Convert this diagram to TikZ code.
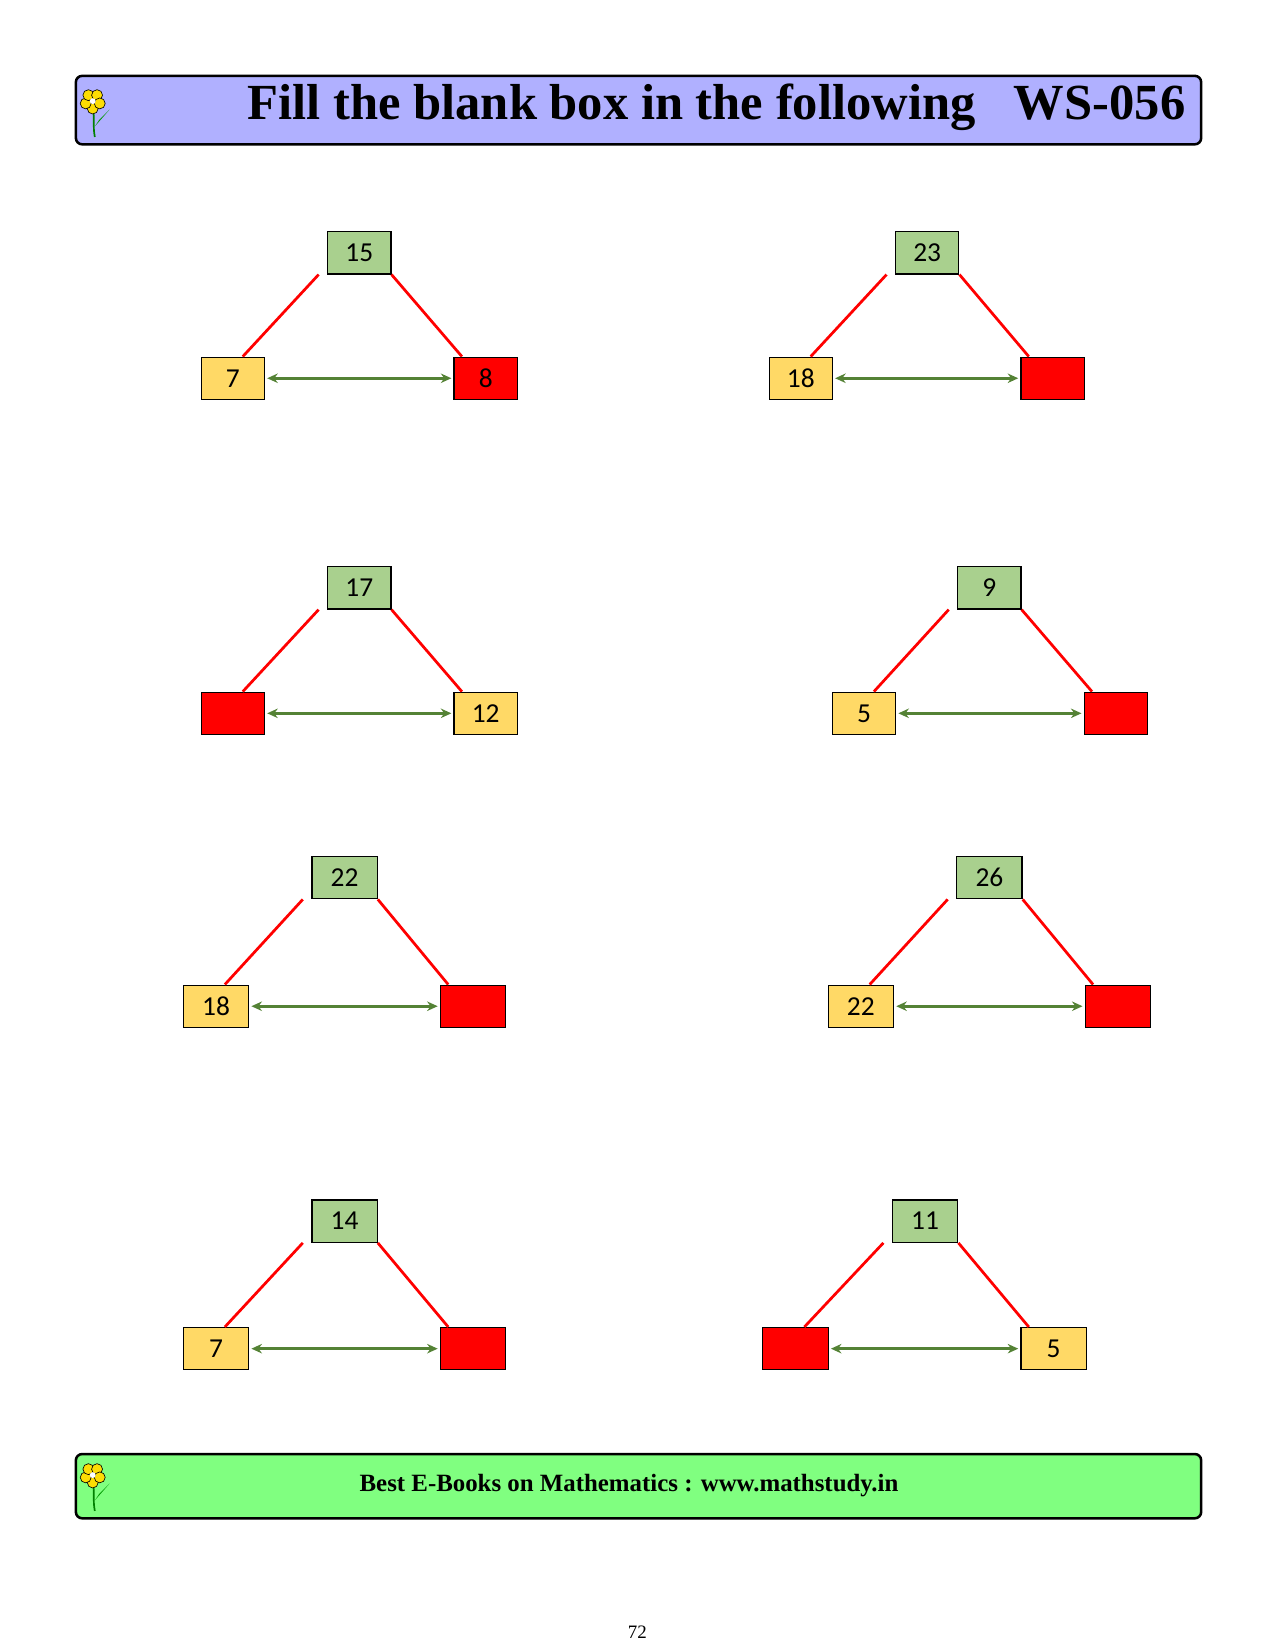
\documentclass[tikz,border=0pt]{standalone}
\usepackage{fontspec}
\setmainfont{Liberation Serif}
\newfontfamily\nums{Carlito}
\usetikzlibrary{arrows.meta}
\definecolor{hdr}{RGB}{176,176,255}
\definecolor{ftr}{RGB}{128,255,128}
\definecolor{gbox}{RGB}{169,208,142}
\definecolor{ybox}{RGB}{255,217,102}
\definecolor{arr}{RGB}{84,130,53}
\tikzset{
  box/.style={draw=black, line width=0.6pt, minimum width=30pt, minimum height=20pt, inner sep=0pt, font=\nums\fontsize{13}{13}\selectfont},
  top/.style={box, fill=gbox},
  yel/.style={box, fill=ybox},
  blank/.style={box, fill=red},
  leg/.style={draw=red, line width=1.3pt},
  link/.style={draw=arr, line width=1.4pt, {Stealth[length=5pt,width=4.5pt]}-{Stealth[length=5pt,width=4.5pt]}},
  banner/.style={draw=black, line width=1.2pt, rounded corners=3pt}
}
\newcommand{\mytri}[9]{%
  \node[top] (#1t) at (#2,#3) {#7};
  \node[#8] (#1l) at (#4,#6) {#9};
}
\newcommand{\myfin}[3]{%
  \node[#2] (#1r) at (#3) {\mytext};
  \draw[leg] ([xshift=-4pt]#1t.south west) -- ([xshift=20pt]#1l.north west);
  \draw[leg] (#1t.south east) -- ([xshift=4pt]#1r.north west);
  \draw[link] ([xshift=1pt]#1l.east) -- ([xshift=-1pt]#1r.west);
}
\newcommand{\flower}[1]{%
  \begin{scope}[shift={(#1)}, scale=2]
    \draw[green!50!black, line width=0.8pt] (0,2) .. controls (1,8) and (0,12) .. (1,17);
    \fill[green!60!black] (1,12) -- (8,4) -- (3,9) -- cycle;
    \foreach \a in {0,72,144,216,288}
      \draw[fill=yellow!80!orange, line width=0.3pt] (\a+90:3.5) circle (2.6);
    \fill[white] (0,0) circle (1.4);
  \end{scope}}
\begin{document}
\begin{tikzpicture}[x=0.5pt,y=-0.5pt]
\useasboundingbox (0,0) rectangle (1210,1566);
\draw[banner, fill=hdr] (72,72) rectangle (1140,137);
\flower{88,96}
\node[font=\bfseries\fontsize{24}{24}\selectfont, anchor=base west] (title) at (228,113) {Fill the blank box in the following};
\node[font=\bfseries\fontsize{24}{24}\selectfont, anchor=base east] (ws) at (1132,113) {WS-056};
\draw[banner, fill=ftr] (72,1380) rectangle (1140,1441);
\flower{88,1400}
\node[font=\bfseries\fontsize{11.8}{12}\selectfont] (foot) at (597,1410) {Best E-Books on Mathematics : www.mathstudy.in};
\node[font=\fontsize{9}{9}\selectfont] (page) at (605,1549) {72};
\mytri{a}{341}{240}{221}{461}{359}{15}{yel}{7}
\def\mytext{8}\myfin{a}{blank}{461,359}
\mytri{b}{880}{240}{760}{999}{359}{23}{yel}{18}
\def\mytext{}\myfin{b}{blank}{999,359}
\mytri{c}{341}{558}{221}{461}{677}{17}{blank}{}
\def\mytext{12}\myfin{c}{yel}{461,677}
\mytri{d}{939}{558}{820}{1059}{677}{9}{yel}{5}
\def\mytext{}\myfin{d}{blank}{1059,677}
\tikzset{box/.append style={minimum width=31pt}}
\mytri{e}{327}{833}{205}{449}{955}{22}{yel}{18}
\def\mytext{}\myfin{e}{blank}{449,955}
\mytri{f}{939}{833}{817}{1061}{955}{26}{yel}{22}
\def\mytext{}\myfin{f}{blank}{1061,955}
\mytri{g}{327}{1159}{205}{449}{1280}{14}{yel}{7}
\def\mytext{}\myfin{g}{blank}{449,1280}
\mytri{h}{878}{1159}{755}{1000}{1280}{11}{blank}{}
\def\mytext{5}\myfin{h}{yel}{1000,1280}
\end{tikzpicture}
\end{document}
